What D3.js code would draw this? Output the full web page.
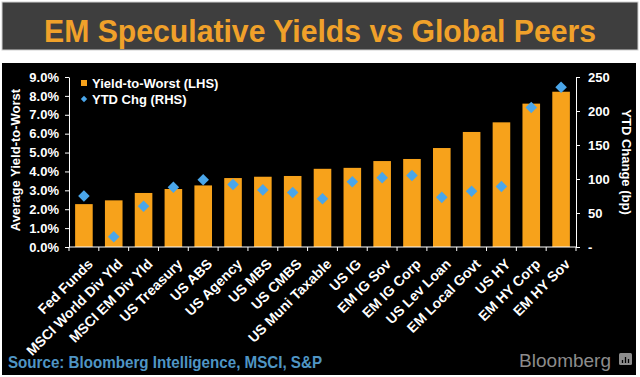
<!DOCTYPE html>
<html>
<head>
<meta charset="utf-8">
<script src="https://cdn.jsdelivr.net/npm/d3@7"></script>
<style>
  body { margin: 0; background: #fff; }
  svg { display: block; font-family: "Liberation Sans", Arial, sans-serif; }
</style>
</head>
<body>
<div id="chart"></div>
<script>
// data
const categories = ["Fed Funds", "MSCI World Div Yld", "MSCI EM Div Yld", "US Treasury", "US ABS",
  "US Agency", "US MBS", "US CMBS", "US Muni Taxable", "US IG", "EM IG Sov", "EM IG Corp",
  "US Lev Loan", "EM Local Govt", "US HY", "EM HY Corp", "EM HY Sov"];
const yieldToWorst = [2.27, 2.47, 2.86, 3.07, 3.26, 3.65, 3.72, 3.76, 4.14, 4.19, 4.55, 4.66,
  5.24, 6.09, 6.6, 7.59, 8.22];
const ytdChg = [75, 15, 60, 88, 99, 92, 84, 80, 71, 96, 102, 105, 73, 82, 89, 205, 235];
const leftTicks = [0, 1, 2, 3, 4, 5, 6, 7, 8, 9];
const rightTicks = [0, 50, 100, 150, 200, 250];

const W = 640, H = 377;
const margin = {top: 77, right: 64, bottom: 130, left: 69};
const width = W - margin.left - margin.right,
    height = H - margin.top - margin.bottom;

const svg = d3.select("#chart").append("svg")
    .attr("width", W)
    .attr("height", H);

// title band
svg.append("rect").attr("x", 2).attr("y", 2).attr("width", 636).attr("height", 48)
    .attr("fill", "#3e3e3e").attr("stroke", "#cfcfcf").attr("stroke-width", 1);
svg.append("text")
    .attr("x", 320).attr("y", 42)
    .attr("text-anchor", "middle")
    .attr("font-size", 32).attr("font-weight", "bold")
    .attr("fill", "#f0a12a")
    .attr("textLength", 552).attr("lengthAdjust", "spacingAndGlyphs")
    .text("EM Speculative Yields vs Global Peers");

// black chart panel
svg.append("rect").attr("x", 2).attr("y", 63).attr("width", 634).attr("height", 312)
    .attr("fill", "#000");

const g = svg.append("g")
    .attr("transform", `translate(${margin.left},${margin.top})`);

const x = d3.scaleBand()
    .domain(categories)
    .range([0, width])
    .paddingInner(0.41)
    .paddingOuter(0.205);

const yL = d3.scaleLinear().domain([0, 9]).range([height, 0]);
const yR = d3.scaleLinear().domain([0, 250]).range([height, 0]);

// bars
g.append("g").selectAll("rect")
    .data(categories)
    .join("rect")
    .attr("x", d => x(d))
    .attr("y", (d, i) => yL(yieldToWorst[i]))
    .attr("width", x.bandwidth())
    .attr("height", (d, i) => height - yL(yieldToWorst[i]))
    .attr("fill", "#f7a21b");

// diamonds
const diamond = d3.symbol().type(d3.symbolDiamond2).size(85);
g.append("g").selectAll("path")
    .data(categories)
    .join("path")
    .attr("d", diamond)
    .attr("transform", (d, i) => `translate(${x(d) + x.bandwidth() / 2},${yR(ytdChg[i])})`)
    .attr("fill", "#4aa6ea");

// axes
const axisStyle = sel => {
  sel.select(".domain").attr("stroke", "#fff");
  sel.selectAll(".tick line").attr("stroke", "#fff");
  sel.selectAll("text").attr("fill", "#fff").attr("font-size", 13).attr("font-weight", "bold")
      .attr("font-family", "Liberation Sans, Arial, sans-serif");
};

g.append("g")
    .call(d3.axisLeft(yL).tickValues(leftTicks).tickFormat(d => d.toFixed(1) + "%").tickSize(4).tickSizeOuter(0).tickPadding(6))
    .call(axisStyle);

g.append("g")
    .attr("transform", `translate(${width},0)`)
    .call(d3.axisRight(yR).tickValues(rightTicks).tickFormat(d => d === 0 ? "-" : d).tickSize(4).tickSizeOuter(0).tickPadding(8))
    .call(axisStyle);

// x axis: ticks on band boundaries
const xAxisG = g.append("g").attr("transform", `translate(0,${height})`);
xAxisG.append("line").attr("x1", 0).attr("x2", width).attr("stroke", "#fff");
xAxisG.selectAll(".xtick")
    .data(d3.range(categories.length + 1))
    .join("line")
    .attr("x1", i => i * x.step()).attr("x2", i => i * x.step())
    .attr("y1", 0).attr("y2", 4)
    .attr("stroke", "#fff");
xAxisG.selectAll(".xlabel")
    .data(categories)
    .join("text")
    .attr("transform", d => `translate(${x(d) + x.bandwidth() / 2 + 3},11) rotate(-45)`)
    .attr("text-anchor", "end")
    .attr("dy", "0.7em")
    .attr("fill", "#fff")
    .attr("font-size", 14).attr("font-weight", "bold")
    .text(d => d);

// axis titles
svg.append("text")
    .attr("transform", "translate(20,160) rotate(-90)")
    .attr("text-anchor", "middle")
    .attr("fill", "#fff").attr("font-size", 13).attr("font-weight", "bold")
    .text("Average Yield-to-Worst");
svg.append("text")
    .attr("transform", "translate(622,162) rotate(90)")
    .attr("text-anchor", "middle")
    .attr("fill", "#fff").attr("font-size", 13).attr("font-weight", "bold")
    .text("YTD Change (bp)");

// legend
const legend = svg.append("g").attr("transform", "translate(84,83)");
legend.append("rect").attr("x", -3).attr("y", -3).attr("width", 6).attr("height", 6).attr("fill", "#f7a21b");
legend.append("text").attr("x", 8).attr("y", 0).attr("dy", "0.35em")
    .attr("fill", "#fff").attr("font-size", 13).attr("font-weight", "bold")
    .text("Yield-to-Worst (LHS)");
legend.append("path").attr("d", d3.symbol().type(d3.symbolDiamond2).size(26))
    .attr("transform", "translate(0,16)").attr("fill", "#4aa6ea");
legend.append("text").attr("x", 8).attr("y", 16).attr("dy", "0.35em")
    .attr("fill", "#fff").attr("font-size", 13).attr("font-weight", "bold")
    .text("YTD Chg (RHS)");

// source and logo
svg.append("text")
    .attr("x", 8).attr("y", 368)
    .attr("fill", "#4f95c4").attr("font-size", 17).attr("font-weight", "bold")
    .attr("textLength", 314).attr("lengthAdjust", "spacingAndGlyphs")
    .text("Source: Bloomberg Intelligence, MSCI, S&P");
svg.append("text")
    .attr("x", 611).attr("y", 367)
    .attr("text-anchor", "end")
    .attr("fill", "#8c8c8c").attr("font-size", 19)
    .text("Bloomberg");
const logo = svg.append("g").attr("transform", "translate(619,353)");
logo.append("rect").attr("width", 13).attr("height", 12).attr("rx", 1.5).attr("fill", "#8c8c8c");
logo.selectAll("line").data([3, 6, 9]).join("line")
    .attr("x1", d => d + 0.5).attr("x2", d => d + 0.5)
    .attr("y1", (d, i) => [7, 4, 6][i]).attr("y2", 10)
    .attr("stroke", "#000").attr("stroke-width", 1.3);
</script>
</body>
</html>
